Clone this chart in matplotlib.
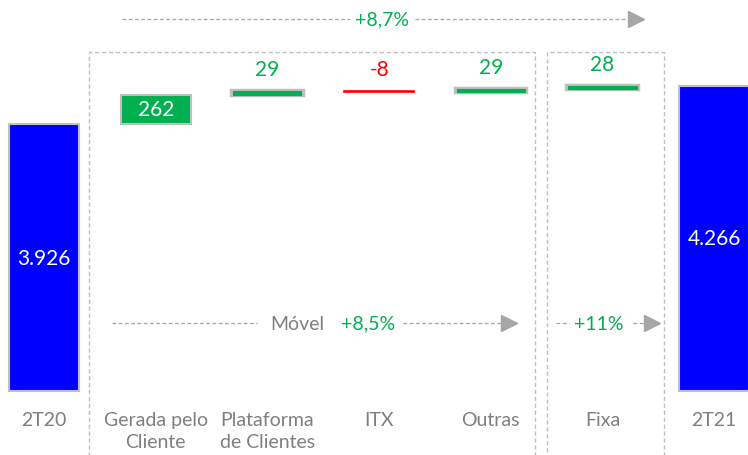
"""Waterfall bridge 2T20 -> 2T21 with dashed group boxes and growth arrows."""

import matplotlib
matplotlib.use("Agg")
import matplotlib.pyplot as plt
import matplotlib.transforms as mtransforms
from matplotlib.patches import Rectangle

# --- data -------------------------------------------------------------
categories = ["2T20", "Gerada pelo\nCliente", "Plataforma\nde Clientes",
              "ITX", "Outras", "Fixa", "2T21"]
values = [3926, 262, 29, -8, 29, 28, 4266]
value_labels = ["3.926", "262", "29", "-8", "29", "28", "4.266"]
kinds = ["total", "step", "step", "step", "step", "step", "total"]

growth_total = "+8,7%"
growth_movel = "+8,5%"
growth_fixa = "+11%"

# --- style ------------------------------------------------------------
BLUE = "#0000FF"
GREEN = "#00B050"
RED = "#FF0000"
GRAY_TXT = "#7F7F7F"
GRAY_LINE = "#A6A6A6"
EDGE = "#BFBFBF"
FONT = ["Lato", "DejaVu Sans"]
FS = 14
FS_VAL = 15
FLOOR = 1542  # truncated axis floor for the total bars


def main():
    plt.rcParams["font.family"] = FONT
    fig = plt.figure(figsize=(7.48, 4.56), dpi=100)
    ax = fig.add_axes([0, 0, 1, 1])
    ax.set_xlim(-0.394, 6.303)
    ax.set_ylim(971, 5042)
    ax.axis("off")
    xfrac = mtransforms.blended_transform_factory(ax.transData, ax.transAxes)

    width = 0.63
    running = 0
    for i, (v, kind, lab) in enumerate(zip(values, kinds, value_labels)):
        if kind == "total":
            ax.bar(i, v - FLOOR, bottom=FLOOR, width=width, color=BLUE,
                   edgecolor=EDGE, linewidth=1.5)
            ax.text(i, (v + FLOOR) / 2, lab, color="white", fontsize=FS_VAL,
                    ha="center", va="center")
            running = v
            continue
        bottom = running if v >= 0 else running + v
        if v < 0:
            ax.bar(i, abs(v), bottom=bottom, width=width, color=RED,
                   edgecolor=RED, linewidth=1.2)
            col = RED
        elif v > 100:
            ax.bar(i, v, bottom=bottom, width=width, color=GREEN,
                   edgecolor=EDGE, linewidth=1.5)
            col = GREEN
        else:
            # thin step: gray halo under a green line
            ax.bar(i, v, bottom=bottom, width=width, color=EDGE,
                   edgecolor=EDGE, linewidth=3.2, zorder=2)
            ax.bar(i, v, bottom=bottom, width=width - 0.02, color=GREEN,
                   edgecolor=GREEN, linewidth=0.8, zorder=3)
            col = GREEN
        if abs(v) > 100:
            ax.text(i, bottom + abs(v) / 2, lab, color="white",
                    fontsize=FS_VAL, ha="center", va="center")
        else:
            ax.annotate(lab, (i, bottom + abs(v)), xytext=(0, 16),
                        textcoords="offset points", color=col,
                        fontsize=FS_VAL, ha="center", va="center")
        running += v

    # category labels
    for i, cat in enumerate(categories):
        ax.text(i, 0.097, cat, transform=xfrac, color=GRAY_TXT, fontsize=FS,
                ha="center", va="top", linespacing=1.35)

    # dashed group boxes
    for x0, x1 in [(0.4, 4.4), (4.5, 5.55)]:
        ax.add_patch(Rectangle((x0, -0.05), x1 - x0, 0.934, transform=xfrac,
                               fill=False, edgecolor=EDGE, linewidth=1,
                               linestyle=(0, (3, 2)), clip_on=False))

    def arrow(y, segments, head_end, texts):
        for xa, xb in segments:
            ax.plot([xa, xb], [y, y], transform=xfrac, color=GRAY_LINE,
                    linewidth=0.9, linestyle=(0, (3, 2)))
        ax.plot([head_end - 0.06], [y], transform=xfrac, marker=">",
                markersize=11, color=GRAY_LINE, linestyle="none")
        for x, s, c in texts:
            ax.text(x, y, s, transform=xfrac, color=c, fontsize=FS,
                    ha="center", va="center")

    arrow(0.956, [(0.7, 2.74), (3.32, 5.24)], 5.36,
          [(3.03, growth_total, GREEN)])
    arrow(0.289, [(0.61, 1.91), (3.21, 4.09)], 4.22,
          [(2.27, "Móvel", GRAY_TXT), (2.9, growth_movel, GREEN)])
    arrow(0.289, [(4.58, 4.7), (5.27, 5.36)], 5.5,
          [(4.97, growth_fixa, GREEN)])

    fig.savefig("out.png", dpi=100)
    plt.close(fig)


if __name__ == "__main__":
    main()
